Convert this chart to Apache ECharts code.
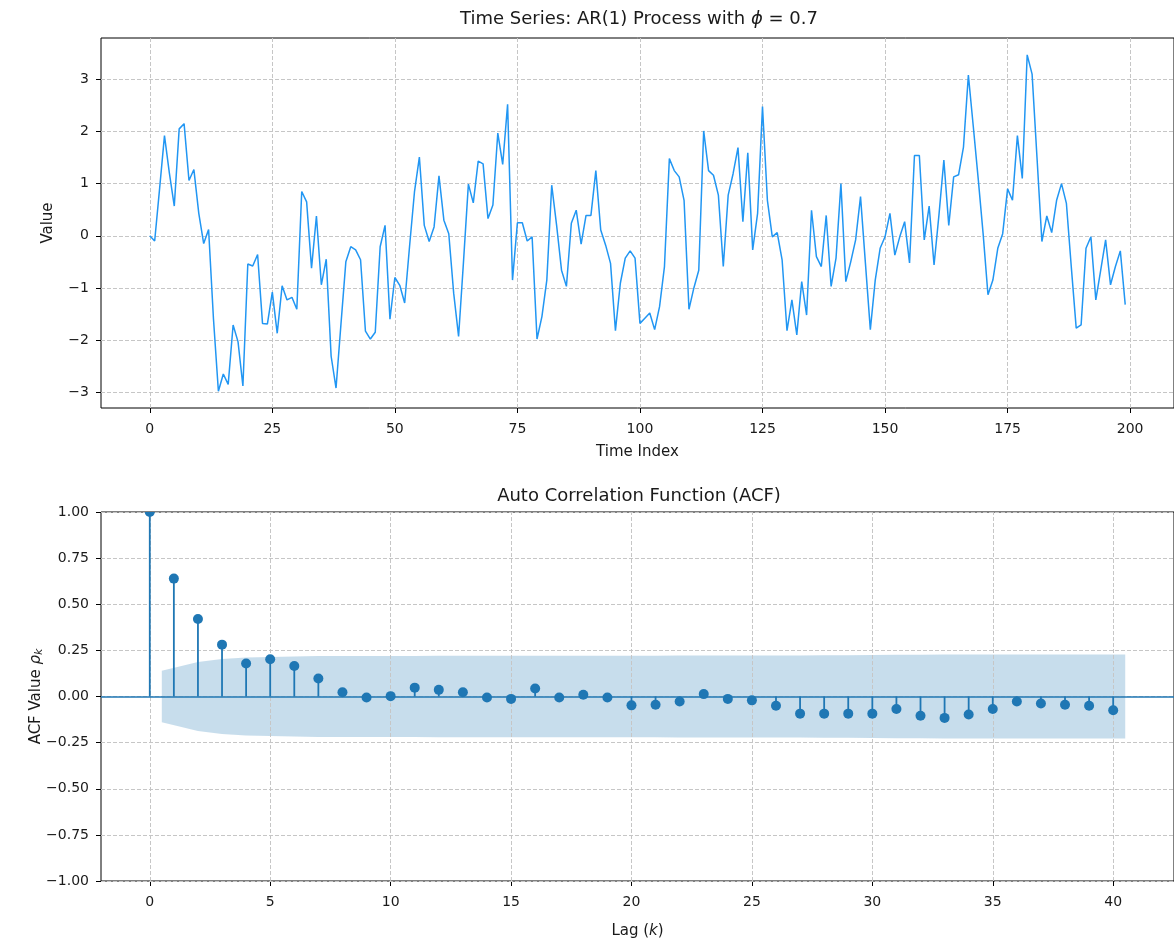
<!DOCTYPE html>
<html>
<head>
<meta charset="utf-8">
<script src="https://cdn.jsdelivr.net/npm/echarts@6/dist/echarts.min.js"></script>
<style>
  html, body { margin: 0; padding: 0; background: #fff; }
  #chart { width: 1174px; height: 940px; }
</style>
</head>
<body>
<div id="chart"></div>
<script>
// AR(1) sample path, one value per time index 0..199
const seriesValues = [
  0.0, -0.1, 0.9, 1.92, 1.2, 0.57, 2.05, 2.15, 1.06, 1.27,
  0.43, -0.15, 0.12, -1.6, -2.98, -2.65, -2.85, -1.71, -2.03, -2.88,
  -0.54, -0.58, -0.36, -1.68, -1.69, -1.08, -1.87, -0.96, -1.23, -1.18,
  -1.41, 0.85, 0.65, -0.62, 0.38, -0.94, -0.45, -2.31, -2.92, -1.7,
  -0.5, -0.21, -0.27, -0.46, -1.83, -1.98, -1.85, -0.21, 0.2, -1.6,
  -0.8, -0.95, -1.29, -0.2, 0.84, 1.51, 0.2, -0.11, 0.17, 1.15,
  0.3, 0.04, -1.1, -1.93, -0.5, 0.99, 0.63, 1.43, 1.38, 0.33,
  0.59, 1.97, 1.37, 2.52, -0.85, 0.25, 0.25, -0.1, -0.02, -1.98,
  -1.55, -0.85, 0.97, 0.2, -0.66, -0.97, 0.24, 0.49, -0.16, 0.39,
  0.39, 1.25, 0.11, -0.18, -0.53, -1.82, -0.91, -0.43, -0.29, -0.43,
  -1.68, -1.58, -1.48, -1.8, -1.36, -0.59, 1.48, 1.25, 1.13, 0.68,
  -1.41, -1.0, -0.66, 2.01, 1.25, 1.16, 0.78, -0.59, 0.78, 1.19,
  1.69, 0.27, 1.59, -0.27, 0.43, 2.48, 0.68, -0.02, 0.06, -0.46,
  -1.82, -1.23, -1.9, -0.88, -1.52, 0.49, -0.4, -0.59, 0.39, -0.97,
  -0.43, 1.0, -0.88, -0.5, -0.08, 0.75, -0.53, -1.8, -0.85, -0.24,
  -0.02, 0.43, -0.37, -0.02, 0.27, -0.52, 1.54, 1.54, -0.08, 0.57,
  -0.56, 0.4, 1.45, 0.2, 1.13, 1.17, 1.7, 3.08, 2.1, 1.1,
  0.05, -1.13, -0.85, -0.24, 0.04, 0.9, 0.68, 1.92, 1.1, 3.47,
  3.1, 1.5, -0.11, 0.38, 0.06, 0.68, 1.0, 0.62, -0.6, -1.77,
  -1.71, -0.24, -0.02, -1.23, -0.66, -0.08, -0.94, -0.59, -0.29, -1.32
];

// Sample autocorrelation for lags 0..40
const acfValues = [
  1.0, 0.639, 0.42, 0.281, 0.179, 0.202, 0.165, 0.098, 0.023, -0.005,
  0.002, 0.048, 0.036, 0.023, -0.005, -0.013, 0.043, -0.005, 0.009, -0.005,
  -0.048, -0.045, -0.027, 0.013, -0.013, -0.021, -0.05, -0.093, -0.093, -0.093,
  -0.093, -0.068, -0.104, -0.116, -0.098, -0.068, -0.027, -0.038, -0.045, -0.05,
  -0.075
];

// Half-width of the 95% confidence band for lags 1..40
const bandHalfWidth = [
  0.139, 0.187, 0.203, 0.211, 0.214, 0.217, 0.219, 0.220, 0.220, 0.220,
  0.220, 0.221, 0.221, 0.221, 0.221, 0.221, 0.221, 0.221, 0.221, 0.221,
  0.221, 0.222, 0.222, 0.222, 0.222, 0.222, 0.222, 0.223, 0.224, 0.225,
  0.226, 0.226, 0.227, 0.228, 0.228, 0.228, 0.228, 0.228, 0.228, 0.228
];

// Tick positions
const timeTicks = [0, 25, 50, 75, 100, 125, 150, 175, 200];
const valueTicks = [-3, -2, -1, 0, 1, 2, 3];
const lagTicks = [0, 5, 10, 15, 20, 25, 30, 35, 40];
const acfTicks = [-1, -0.75, -0.5, -0.25, 0, 0.25, 0.5, 0.75, 1];

const lineColor = '#2196f3';
const acfColor = '#1f77b4';
const font = 'DejaVu Sans';
const textColor = '#1a1a1a';

const minus = s => s.replace('-', '\u2212');

// Axis limits with 5% padding around the data
const n = seriesValues.length;
const vMin = Math.min(...seriesValues), vMax = Math.max(...seriesValues);
const vPad = (vMax - vMin) * 0.05;
const tsXRange = [-(n - 1) * 0.05, (n - 1) * 1.05];
const tsYRange = [vMin - vPad, vMax + vPad];
const lagMaxEdge = acfValues.length - 1 + 0.5;
const lagRange = [-lagMaxEdge * 0.05, lagMaxEdge * 1.05];

// Band outline: lag 1 is pulled back half a step, lag 40 pushed out half a step
const bandLags = bandHalfWidth.map((_, i) => {
  const lag = i + 1;
  if (i === 0) return lag - 0.5;
  if (i === bandHalfWidth.length - 1) return lag + 0.5;
  return lag;
});

function gridLines(xTicks, yTicks) {
  return {
    z: 1,
    silent: true,
    animation: false,
    symbol: ['none', 'none'],
    label: { show: false },
    emphasis: { disabled: true },
    lineStyle: { color: '#c6c6c6', type: [4, 2], width: 1 },
    data: xTicks.map(v => ({ xAxis: v })).concat(yTicks.map(v => ({ yAxis: v })))
  };
}

function xAxisCfg(gridIndex, range, ticks, name, nameRich, nameGap) {
  return {
    gridIndex, type: 'value', min: range[0], max: range[1],
    axisLine: { show: false, onZero: false },
    splitLine: { show: false },
    axisTick: { show: true, customValues: ticks, length: 5, lineStyle: { color: '#000', width: 1 } },
    axisLabel: {
      customValues: ticks, margin: 14, fontSize: 14, fontFamily: font, color: textColor,
      formatter: v => minus(String(v))
    },
    name, nameLocation: 'middle', nameGap, nameMoveOverlap: false,
    nameTextStyle: { fontSize: 15, fontFamily: font, color: textColor, rich: nameRich }
  };
}

function yAxisCfg(gridIndex, range, ticks, digits, name, nameRich, nameGap) {
  return {
    gridIndex, type: 'value', min: range[0], max: range[1],
    axisLine: { show: false, onZero: false },
    splitLine: { show: false },
    axisTick: { show: true, customValues: ticks, length: 5, lineStyle: { color: '#000', width: 1 } },
    axisLabel: {
      customValues: ticks, margin: 12, fontSize: 14, fontFamily: font, color: textColor,
      formatter: v => minus(v.toFixed(digits))
    },
    name, nameLocation: 'middle', nameRotate: 90, nameGap, nameMoveOverlap: false,
    nameTextStyle: { fontSize: 15, fontFamily: font, color: textColor, rich: nameRich }
  };
}

const italicRich = {
  i: { fontStyle: 'italic', fontSize: 15, fontFamily: font, color: textColor },
  sub: { fontStyle: 'italic', fontSize: 11, fontFamily: font, color: textColor, verticalAlign: 'bottom', padding: [6, 0, 0, 0] }
};

const chart = echarts.init(document.getElementById('chart'), null, { renderer: 'canvas' });

chart.setOption({
  animation: false,
  backgroundColor: '#fff',
  graphic: [
    {
      type: 'text', z: 10,
      style: {
        text: 'Time Series: AR(1) Process with {i|\u03d5} = 0.7',
        x: 639, y: 19, align: 'center', verticalAlign: 'middle',
        fontSize: 18, fontFamily: font, fill: textColor,
        rich: { i: { fontStyle: 'italic', fontSize: 18, fontFamily: font, fill: textColor } }
      }
    },
    {
      type: 'text', z: 10,
      style: {
        text: 'Auto Correlation Function (ACF)',
        x: 639, y: 496, align: 'center', verticalAlign: 'middle',
        fontSize: 18, fontFamily: font, fill: textColor
      }
    }
  ],
  grid: [
    { left: 101, top: 38, width: 1077, height: 370, show: true, borderColor: '#000', borderWidth: 1, backgroundColor: 'transparent', containLabel: false },
    { left: 101, top: 512, width: 1077, height: 373, show: true, borderColor: '#000', borderWidth: 1, backgroundColor: 'transparent', containLabel: false }
  ],
  xAxis: [
    xAxisCfg(0, tsXRange, timeTicks, 'Time Index', italicRich, 37),
    xAxisCfg(1, lagRange, lagTicks, 'Lag ({i|k})', italicRich, 43)
  ],
  yAxis: [
    yAxisCfg(0, tsYRange, valueTicks, 0, 'Value', italicRich, 45),
    yAxisCfg(1, [-1, 1], acfTicks, 2, 'ACF Value {i|\u03c1}{sub|k}', italicRich, 56)
  ],
  series: [
    // grid lines, time series panel
    {
      type: 'line', xAxisIndex: 0, yAxisIndex: 0, data: [], z: 1, silent: true,
      markLine: gridLines(timeTicks, valueTicks)
    },
    // AR(1) path
    {
      type: 'line', xAxisIndex: 0, yAxisIndex: 0, z: 3,
      data: seriesValues.map((v, i) => [i, v]),
      showSymbol: false, symbol: 'none', clip: true,
      lineStyle: { color: lineColor, width: 1.5 },
      itemStyle: { color: lineColor }
    },
    // confidence band
    {
      type: 'custom', xAxisIndex: 1, yAxisIndex: 1, z: 0, silent: true, clip: true,
      data: [[0, 0]],
      renderItem: (params, api) => {
        const upper = bandLags.map((x, i) => api.coord([x, bandHalfWidth[i]]));
        const lower = bandLags.map((x, i) => api.coord([x, -bandHalfWidth[i]])).reverse();
        return {
          type: 'polygon',
          shape: { points: upper.concat(lower) },
          style: { fill: acfColor, opacity: 0.25 }
        };
      }
    },
    // grid lines, ACF panel
    {
      type: 'line', xAxisIndex: 1, yAxisIndex: 1, data: [], z: 1, silent: true,
      markLine: gridLines(lagTicks, acfTicks)
    },
    // zero reference line
    {
      type: 'line', xAxisIndex: 1, yAxisIndex: 1, data: [], z: 2, silent: true,
      markLine: {
        z: 2, silent: true, animation: false, symbol: ['none', 'none'], label: { show: false },
        emphasis: { disabled: true },
        lineStyle: { color: acfColor, type: 'solid', width: 1.6 },
        data: [{ yAxis: 0 }]
      }
    },
    // ACF stems
    {
      type: 'custom', xAxisIndex: 1, yAxisIndex: 1, z: 4, clip: true,
      data: acfValues.map((v, k) => [k, v]),
      encode: { x: 0, y: 1 },
      renderItem: (params, api) => {
        const lag = api.value(0), v = api.value(1);
        const base = api.coord([lag, 0]);
        const tip = api.coord([lag, v]);
        return {
          type: 'group',
          children: [
            { type: 'line', shape: { x1: base[0], y1: base[1], x2: tip[0], y2: tip[1] }, style: { stroke: acfColor, lineWidth: 1.8 } },
            { type: 'circle', shape: { cx: tip[0], cy: tip[1], r: 5 }, style: { fill: acfColor } }
          ]
        };
      }
    }
  ]
});
</script>
</body>
</html>
